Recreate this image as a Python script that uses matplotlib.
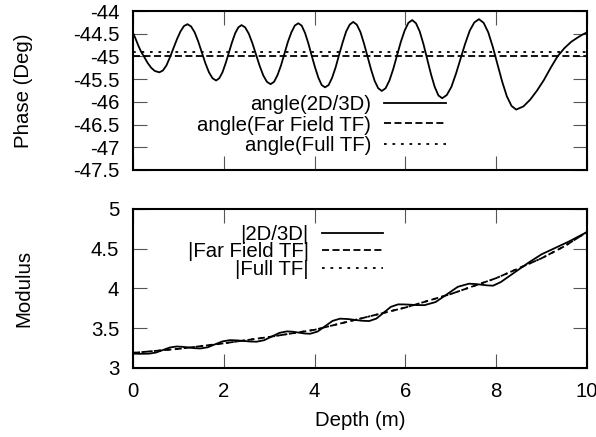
import numpy as np
import matplotlib
matplotlib.use('Agg')
import matplotlib.pyplot as plt

plt.rcParams['font.family'] = ['Liberation Sans', 'DejaVu Sans']
plt.rcParams['font.size'] = 14.7

# phase of the 2D/3D ratio (deg)
depth_phase = [0.0, 0.06, 0.12, 0.18, 0.24, 0.32, 0.40, 0.48, 0.58,
               0.658, 0.735, 0.813, 0.89, 0.968, 1.045, 1.123, 1.20,
               1.279, 1.358, 1.436, 1.515, 1.594, 1.673, 1.751, 1.83,
               1.90, 1.97, 2.04, 2.11, 2.18, 2.25, 2.32, 2.39,
               2.47, 2.55, 2.63, 2.71, 2.79, 2.87, 2.95, 3.03,
               3.106, 3.183, 3.259, 3.335, 3.411, 3.488, 3.564, 3.64,
               3.714, 3.788, 3.861, 3.935, 4.009, 4.083, 4.156, 4.23,
               4.308, 4.385, 4.463, 4.54, 4.618, 4.695, 4.773, 4.85,
               4.929, 5.008, 5.086, 5.165, 5.244, 5.323, 5.401, 5.48,
               5.564, 5.648, 5.731, 5.815, 5.899, 5.983, 6.066, 6.15,
               6.233, 6.315, 6.398, 6.48, 6.563, 6.645, 6.728, 6.81,
               6.911, 7.013, 7.114, 7.215, 7.316, 7.418, 7.519, 7.62,
               7.723, 7.825, 7.928, 8.03, 8.133, 8.235, 8.338, 8.44,
               8.60, 8.75, 8.90, 9.05, 9.20, 9.35, 9.50, 9.65, 9.80, 9.90, 10.0]
phase_2d3d = [-44.48, -44.62, -44.77, -44.90, -45.00, -45.14, -45.25, -45.32, -45.35,
              -45.31, -45.20, -45.02, -44.82, -44.62, -44.45, -44.33, -44.29,
              -44.34, -44.47, -44.67, -44.91, -45.15, -45.35, -45.48, -45.53,
              -45.48, -45.35, -45.15, -44.92, -44.69, -44.49, -44.36, -44.31,
              -44.36, -44.50, -44.71, -44.96, -45.21, -45.42, -45.56, -45.61,
              -45.56, -45.41, -45.20, -44.94, -44.68, -44.47, -44.32, -44.27,
              -44.32, -44.48, -44.71, -44.98, -45.24, -45.47, -45.63, -45.68,
              -45.63, -45.47, -45.24, -44.96, -44.69, -44.45, -44.30, -44.24,
              -44.30, -44.46, -44.71, -45.00, -45.29, -45.54, -45.70, -45.76,
              -45.70, -45.53, -45.28, -44.98, -44.68, -44.43, -44.26, -44.20,
              -44.27, -44.45, -44.73, -45.06, -45.39, -45.67, -45.86, -45.92,
              -45.85, -45.67, -45.38, -45.05, -44.72, -44.43, -44.25, -44.18,
              -44.26, -44.47, -44.80, -45.18, -45.56, -45.88, -46.09, -46.17,
              -46.10, -45.95, -45.75, -45.52, -45.25, -45.00, -44.82, -44.68, -44.58, -44.52, -44.47]

depth_const = [0.0, 10.0]
phase_far = [-45.0, -45.0]
phase_full = [-44.9, -44.9]

# modulus
depth_mod = [0.0, 0.15, 0.35, 0.50, 0.655, 0.81, 0.96,
             1.09, 1.22, 1.35, 1.48, 1.645, 1.81, 1.975, 2.14,
             2.285, 2.43, 2.575, 2.72, 2.888, 3.055, 3.223, 3.39,
             3.518, 3.645, 3.773, 3.90, 4.065, 4.23, 4.395, 4.56,
             4.72, 4.88, 5.04, 5.20, 5.36, 5.52, 5.68, 5.84,
             5.985, 6.13, 6.275, 6.42, 6.665, 6.91, 7.155, 7.40,
             7.533, 7.665, 7.798, 7.93, 8.10, 8.25, 8.45, 8.70,
             9.00, 9.30, 9.60, 9.80, 10.0]
mod_2d3d = [3.18, 3.178, 3.18, 3.193, 3.225, 3.257, 3.27,
            3.266, 3.258, 3.249, 3.245, 3.26, 3.298, 3.335, 3.35,
            3.347, 3.34, 3.333, 3.33, 3.349, 3.395, 3.441, 3.46,
            3.456, 3.445, 3.434, 3.43, 3.458, 3.525, 3.592, 3.62,
            3.616, 3.605, 3.594, 3.59, 3.621, 3.695, 3.769, 3.80,
            3.799, 3.795, 3.791, 3.79, 3.829, 3.925, 4.021, 4.06,
            4.056, 4.048, 4.039, 4.035, 4.08, 4.14, 4.22, 4.32,
            4.43, 4.51, 4.59, 4.65, 4.71]

depth_tf = [0, 1, 2, 3, 4, 5, 6, 7, 8, 9, 9.5, 10]
mod_far = [3.19, 3.24, 3.31, 3.39, 3.48, 3.62, 3.76, 3.93, 4.13, 4.38, 4.53, 4.71]
mod_full = [3.19, 3.24, 3.31, 3.39, 3.48, 3.62, 3.76, 3.93, 4.13, 4.38, 4.53, 4.71]

fig = plt.figure(figsize=(5.96, 4.37), dpi=100)
ax1 = fig.add_axes([0.2232, 0.611, 0.7617, 0.3638])
ax2 = fig.add_axes([0.2232, 0.158, 0.7617, 0.3638])

lw = 1.3
dash = (3.9, 1.9)
dot = (1.5, 3.2)

ax1.plot(depth_phase, phase_2d3d, color='k', lw=lw, label='angle(2D/3D)')
ax1.plot(depth_const, phase_far, color='k', lw=lw, dashes=dash, label='angle(Far Field TF)')
ax1.plot(depth_const, phase_full, color='k', lw=lw, dashes=dot, label='angle(Full TF)')

ax2.plot(depth_mod, mod_2d3d, color='k', lw=lw, label='|2D/3D|')
ax2.plot(depth_tf, mod_far, color='k', lw=lw, dashes=dash, label='|Far Field TF|')
ax2.plot(depth_tf, mod_full, color='k', lw=lw, dashes=dot, label='|Full TF|')

ax1.set_ylim(-47.5, -44)
ax1.set_yticks(np.arange(-47.5, -43.9, 0.5))
ax1.set_yticklabels(['-47.5', '-47', '-46.5', '-46', '-45.5', '-45', '-44.5', '-44'])
ax2.set_ylim(3, 5)
ax2.set_yticks([3, 3.5, 4, 4.5, 5])
ax2.set_yticklabels(['3', '3.5', '4', '4.5', '5'])

for ax in (ax1, ax2):
    ax.set_xlim(0, 10)
    ax.set_xticks([0, 2, 4, 6, 8, 10])
    ax.tick_params(direction='in', length=10, width=0.8, color='#555555',
                   top=True, right=True, pad=10)
    for s in ax.spines.values():
        s.set_linewidth(1.5)

ax1.tick_params(labelbottom=False)
ax1.set_ylabel('Phase (Deg)')
ax2.set_ylabel('Modulus')
ax1.yaxis.set_label_coords(-0.22, 0.5)
ax2.yaxis.set_label_coords(-0.22, 0.5)
ax2.set_xlabel('Depth (m)', labelpad=7)

ax1.legend(loc='center right', bbox_to_anchor=(0.711, 0.283), frameon=False,
           markerfirst=False, borderpad=0, handlelength=3.0, handletextpad=0.64,
           labelspacing=0.07)
ax2.legend(loc='center right', bbox_to_anchor=(0.573, 0.73), frameon=False,
           markerfirst=False, borderpad=0, handlelength=3.0, handletextpad=0.64,
           labelspacing=-0.08)

fig.savefig('out.png', dpi=100)
